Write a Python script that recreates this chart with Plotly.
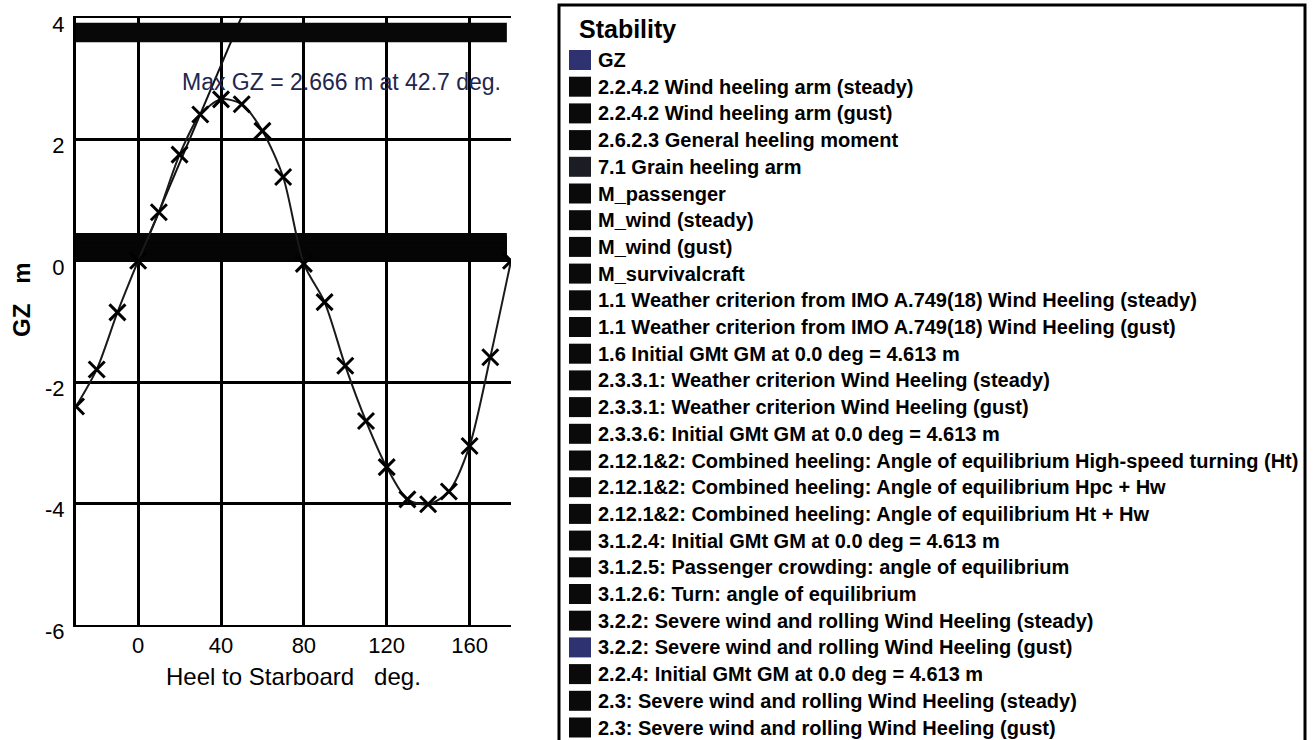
import plotly.graph_objects as go

W, H = 1314, 740

# ---------------- data ----------------
heel_deg = [-30, -20, -10, 0, 10, 20, 30, 40, 50, 60, 70, 80, 90, 100, 110,
            120, 130, 140, 150, 160, 170, 180]
gz_m = [-2.40, -1.79, -0.85, 0.00, 0.80, 1.75, 2.41, 2.66, 2.58, 2.14, 1.38,
        -0.05, -0.68, -1.73, -2.64, -3.40, -3.93, -4.01, -3.80, -3.05, -1.59, 0.00]

gm_line_x = [0.0, 57.3]        # initial GMt line: GM at 1 rad
gm_line_y = [0.0, 4.613]

arm_names = ["2.2.4.2 Wind heeling arm (steady)", "2.2.4.2 Wind heeling arm (gust)",
             "2.6.2.3 General heeling moment", "7.1 Grain heeling arm", "M_passenger",
             "M_wind (steady)", "M_wind (gust)", "M_survivalcraft",
             "3.2.2: Severe wind and rolling Wind Heeling (steady)",
             "3.2.2: Severe wind and rolling Wind Heeling (gust)"]
arm_values = [0.04, 0.08, 0.12, 0.16, 0.20, 0.24, 0.28, 0.32, 0.36, 0.40]
arm_x = [-30, 178]

x_ticks = [0, 40, 80, 120, 160]
y_ticks = [-6, -4, -2, 0, 2, 4]

x_title = "Heel to Starboard   deg."
y_title = "GZ   m"

legend_title = "Stability"
legend_names = [
    "GZ",
    "2.2.4.2 Wind heeling arm (steady)",
    "2.2.4.2 Wind heeling arm (gust)",
    "2.6.2.3 General heeling moment",
    "7.1 Grain heeling arm",
    "M_passenger",
    "M_wind (steady)",
    "M_wind (gust)",
    "M_survivalcraft",
    "1.1 Weather criterion from IMO A.749(18) Wind Heeling (steady)",
    "1.1 Weather criterion from IMO A.749(18) Wind Heeling (gust)",
    "1.6 Initial GMt GM at 0.0 deg = 4.613 m",
    "2.3.3.1: Weather criterion Wind Heeling (steady)",
    "2.3.3.1: Weather criterion Wind Heeling (gust)",
    "2.3.3.6: Initial GMt GM at 0.0 deg = 4.613 m",
    "2.12.1&2: Combined heeling: Angle of equilibrium High-speed turning (Ht)",
    "2.12.1&2: Combined heeling: Angle of equilibrium Hpc + Hw",
    "2.12.1&2: Combined heeling: Angle of equilibrium Ht + Hw",
    "3.1.2.4: Initial GMt GM at 0.0 deg = 4.613 m",
    "3.1.2.5: Passenger crowding: angle of equilibrium",
    "3.1.2.6: Turn: angle of equilibrium",
    "3.2.2: Severe wind and rolling Wind Heeling (steady)",
    "3.2.2: Severe wind and rolling Wind Heeling (gust)",
    "2.2.4: Initial GMt GM at 0.0 deg = 4.613 m",
    "2.3: Severe wind and rolling Wind Heeling (steady)",
    "2.3: Severe wind and rolling Wind Heeling (gust)",
]
legend_colors = ["#2e3270"] + ["#0a0a0a"] * 25
legend_colors[4] = "#1c1c24"
legend_colors[22] = "#2e3270"

max_label = "Max GZ = 2.666 m at 42.7 deg."

FONT = "Liberation Sans, Arial"

# ---------------- helpers (pixel -> paper, margins are zero) ----------------
def px(x):
    return x / W

def py(y):
    return 1 - y / H

PL, PR, PT, PB = 76, 511, 18, 625

fig = go.Figure()

# heeling arm lines forming the dark band near zero
for name, v in zip(arm_names, arm_values):
    fig.add_trace(go.Scatter(x=arm_x, y=[v, v], mode="lines", name=name,
                             line=dict(color="#050505", width=7), showlegend=False,
                             hoverinfo="skip"))

# initial GM line
fig.add_trace(go.Scatter(x=gm_line_x, y=gm_line_y, mode="lines",
                         name="1.6 Initial GMt GM at 0.0 deg = 4.613 m",
                         line=dict(color="#111111", width=2), showlegend=False))

# GZ curve
fig.add_trace(go.Scatter(x=heel_deg, y=gz_m, mode="lines+markers", name="GZ",
                         line=dict(color="#1a1a1a", width=2, shape="spline", smoothing=0.8),
                         marker=dict(symbol="x-thin", size=16, color="#000000",
                                     line=dict(color="#000000", width=3)),
                         showlegend=False))

shapes = []
# top band of overlapping criterion labels
shapes.append(dict(type="rect", xref="x", yref="y", x0=-30, x1=178, y0=3.6, y1=3.92,
                   fillcolor="#080808", line=dict(width=0), layer="above"))
# legend box
shapes.append(dict(type="rect", xref="paper", yref="paper",
                   x0=px(559), x1=px(1305), y0=py(760), y1=py(5),
                   fillcolor="rgba(0,0,0,0)", line=dict(color="#000000", width=3)))

annotations = []
annotations.append(dict(text=max_label, xref="paper", yref="paper", x=px(503), y=py(82),
                        xanchor="right", yanchor="middle", showarrow=False,
                        font=dict(family=FONT, size=23, color="#22264e")))
annotations.append(dict(text=x_title, xref="paper", yref="paper", x=px(293), y=py(676),
                        xanchor="center", yanchor="middle", showarrow=False,
                        font=dict(family=FONT, size=24, color="#000000")))
annotations.append(dict(text="<b>" + y_title + "</b>", xref="paper", yref="paper",
                        x=px(21), y=py(300), textangle=-90,
                        xanchor="center", yanchor="middle", showarrow=False,
                        font=dict(family=FONT, size=24, color="#000000")))
annotations.append(dict(text="<b>" + legend_title + "</b>", xref="paper", yref="paper",
                        x=px(577), y=py(29), xanchor="left", yanchor="middle", showarrow=False,
                        font=dict(family=FONT, size=25, color="#000000")))
for i, (name, col) in enumerate(zip(legend_names, legend_colors)):
    yc = 60 + i * 26.7
    shapes.append(dict(type="rect", xref="paper", yref="paper",
                       x0=px(569), x1=px(591), y0=py(yc + 10), y1=py(yc - 10),
                       fillcolor=col, line=dict(width=0)))
    annotations.append(dict(text="<b>" + name + "</b>", xref="paper", yref="paper",
                            x=px(596), y=py(yc), xanchor="left", yanchor="middle",
                            showarrow=False,
                            font=dict(family=FONT, size=20, color="#000000")))

fig.update_layout(
    width=W, height=H,
    margin=dict(l=0, r=0, t=0, b=0),
    paper_bgcolor="white", plot_bgcolor="white",
    showlegend=False,
    shapes=shapes, annotations=annotations,
    font=dict(family=FONT, color="#000000"),
    xaxis=dict(domain=[px(PL), px(PR)], range=[-30, 180], tickvals=x_ticks,
               ticktext=[str(t) for t in x_ticks], showgrid=True, gridcolor="#000000",
               gridwidth=2.5, zeroline=False, showline=True, linecolor="#000000",
               linewidth=2, mirror=True, ticks="", ticklabelstandoff=0,
               tickfont=dict(size=22), automargin=False),
    yaxis=dict(domain=[py(PB), py(PT)], range=[-6, 4], tickvals=y_ticks,
               ticktext=[str(t) for t in y_ticks], showgrid=True, gridcolor="#000000",
               gridwidth=2.5, zeroline=False, showline=True, linecolor="#000000",
               linewidth=3, mirror=False, ticks="", ticklabelstandoff=4,
               ticklabelshift=6, tickfont=dict(size=22), automargin=False),
)

fig.write_html("out.html")
